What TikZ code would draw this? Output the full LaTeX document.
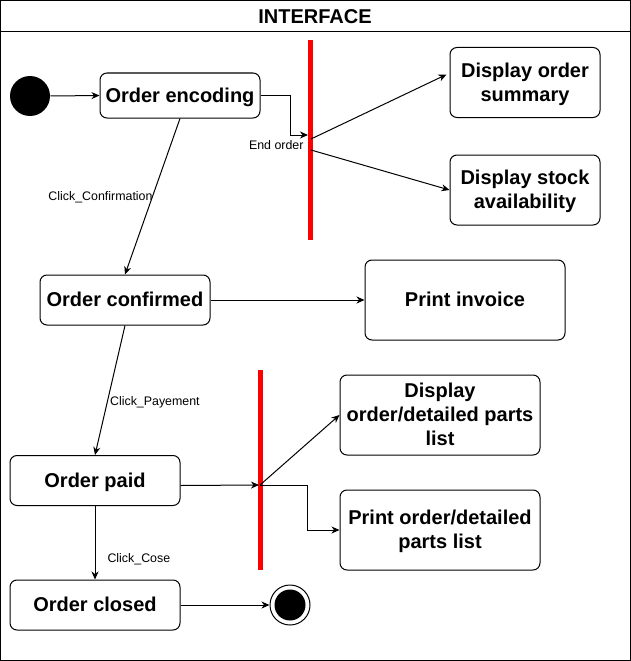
\documentclass[tikz,border=0pt]{standalone}
\usepackage{fontspec}
\setmainfont{Liberation Sans}
\usetikzlibrary{arrows.meta,calc}
\newcommand{\mytopstrut}{\rule{0pt}{18.1pt}}
\begin{document}
\begin{tikzpicture}[x=1pt,y=-1pt,line width=1pt,
  state/.style={draw, rounded corners=7pt, font=\bfseries\fontsize{20}{24}\selectfont, align=center, inner sep=0pt,
    execute at begin node={\rule{0pt}{18.1pt}}, execute at end node={\rule[-4.2pt]{0pt}{4.2pt}}},
  bar/.style={fill=red, draw=none, minimum width=5pt, minimum height=200pt, inner sep=0pt},
  arr/.style={-{Stealth[length=8pt,width=7pt,inset=2.5pt]}},
  lbl/.style={font=\fontsize{12.4}{14}\selectfont, inner sep=1pt}]
\useasboundingbox (0,0) rectangle (631,661);
% frame
\draw (0.5,0.5) rectangle (630.5,660.5);
\draw (0.5,32) -- (630.5,32);
\node[font=\bfseries\fontsize{20}{24}\selectfont] (title) at (315,16.5) {INTERFACE};
% nodes
\node[circle, fill=black, minimum size=40pt, inner sep=0pt] (init) at (30,96) {};
\node[state, minimum width=160pt, minimum height=45pt] (enc) at (180,95.5) {Order encoding};
\node[bar] (bar1) at (310,140) {};
\node[state, minimum width=150pt, minimum height=70pt] (dos) at (525,82.5) {\mytopstrut Display order\\summary};
\node[state, minimum width=150pt, minimum height=70pt] (dsa) at (525,190) {\mytopstrut Display stock\\availability};
\node[state, minimum width=170pt, minimum height=50pt] (conf) at (125,300) {Order confirmed};
\node[state, minimum width=200pt, minimum height=80pt] (inv) at (465,300) {Print invoice};
\node[state, minimum width=170pt, minimum height=50pt] (paid) at (95,480.5) {Order paid};
\node[bar] (bar2) at (260,470) {};
\node[state, minimum width=200pt, minimum height=80pt] (dodp) at (440,415) {\mytopstrut Display\\order/detailed parts\\list};
\node[state, minimum width=200pt, minimum height=80pt] (podp) at (440,530) {\mytopstrut Print order/detailed\\parts list};
\node[state, minimum width=170pt, minimum height=50pt] (closed) at (95,605) {Order closed};
\node[circle, draw=black, line width=1pt, minimum size=40pt, inner sep=0pt] (final) at (290,605) {};
\node[circle, fill=black, minimum size=31pt, inner sep=0pt] (finalin) at (290,605) {};
% coordinates on bars
\coordinate (b1in) at ([xshift=-2pt,yshift=5pt]bar1.center);
\coordinate (b1o1) at ([xshift=1pt,yshift=1pt]bar1.center);
\coordinate (b1o2) at ([xshift=1pt,yshift=-10pt]bar1.center);
\coordinate (b2in) at ([xshift=-1pt,yshift=-15pt]bar2.center);
\coordinate (b2o) at ([yshift=-15pt]bar2.center);
% edges
\draw[arr] (init.east) -- (enc.west);
\draw[arr] (enc.east) -| ([xshift=-18pt]b1in) -- (b1in);
\node[lbl, anchor=east] (endorder) at ([xshift=-5pt,yshift=-5pt]bar1.center) {End order};
\draw[arr] (b1o1) -- ([xshift=-3pt,yshift=8pt]dos.west);
\draw[arr] (b1o2) -- (dsa.west);
\draw[arr] (enc.south) -- node[lbl, anchor=east, pos=0.49, xshift=1pt, yshift=-2pt] (lconf) {Click\_Confirmation} (conf.north);
\draw[arr] (conf.east) -- (inv.west);
\draw[arr] (conf.south) -- node[lbl, anchor=west, pos=0.58, xshift=1pt, yshift=-2pt] (lpay) {Click\_Payement} (paid.north);
\draw[arr] ([yshift=-5pt]paid.east) -- (b2in);
\draw[arr] (b2o) -- (dodp.west);
\draw[arr] (b2o) -- ++(47,0) |- (podp.west);
\draw[arr] (paid.south) -- node[lbl, anchor=west, pos=0.68, xshift=11pt, yshift=-3pt] (lcose) {Click\_Cose} (closed.north);
\draw[arr] (closed.east) -- (final.west);
\end{tikzpicture}
\end{document}
